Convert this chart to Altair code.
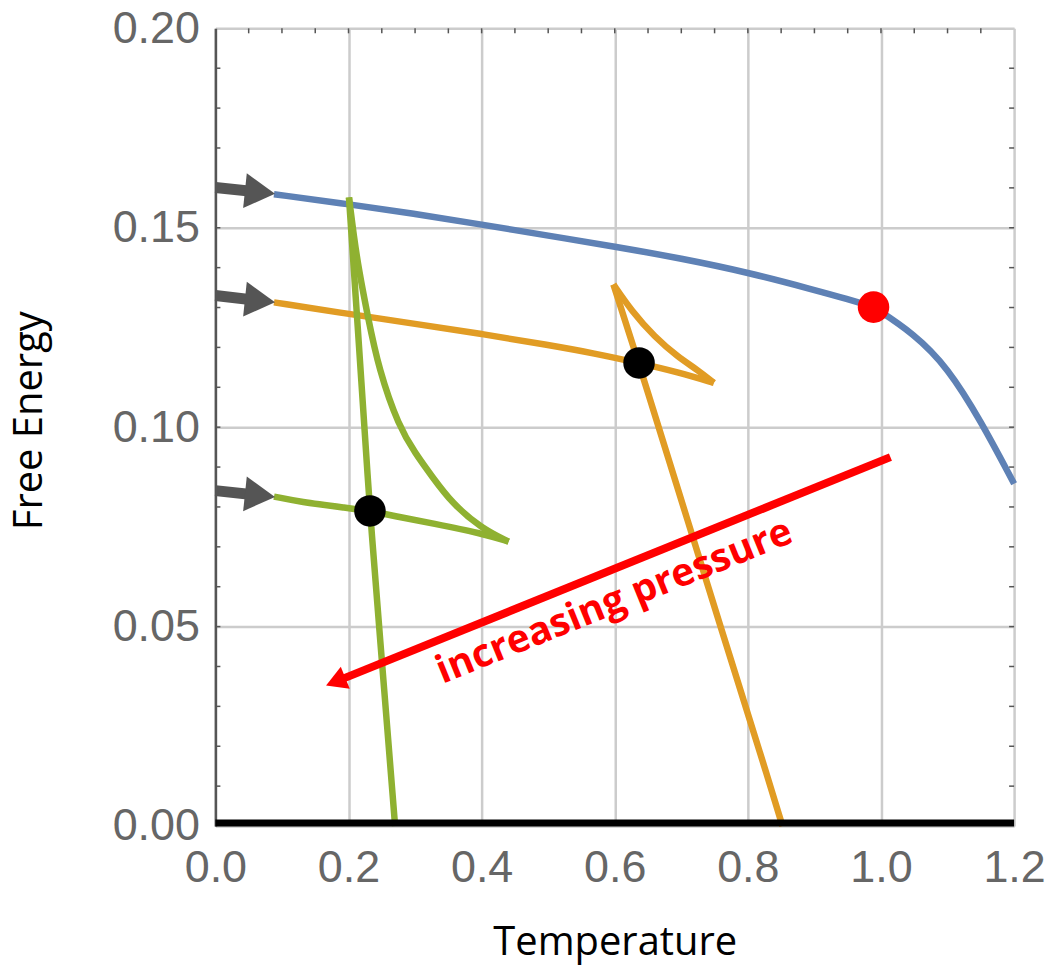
import altair as alt
import pandas as pd

# ---------------- data ----------------
# Blue curve (split at the red critical point)
blue_a_T = [0.088, 0.2, 0.3, 0.4, 0.5, 0.6, 0.7, 0.8, 0.9, 0.95, 0.989]
blue_a_F = [0.1584, 0.1559, 0.1535, 0.1508, 0.1480, 0.1453, 0.1423, 0.1388, 0.1344, 0.1321, 0.1301]
blue_b_T = [0.989, 1.05, 1.1, 1.15, 1.2]
blue_b_F = [0.1301, 0.1234, 0.1150, 0.1016, 0.0858]

# Orange swallowtail: lower branch, cusp branch, steep branch
orange_a_T = [0.088, 0.2, 0.3, 0.4, 0.5, 0.57, 0.636, 0.695, 0.749]
orange_a_F = [0.1313, 0.1284, 0.1259, 0.1234, 0.1206, 0.1185, 0.1161, 0.1138, 0.1111]
orange_b_T = [0.749, 0.725, 0.695, 0.660, 0.625, 0.598]
orange_b_F = [0.1111, 0.1143, 0.1176, 0.1226, 0.1292, 0.1358]
orange_c_T = [0.598, 0.636, 0.6595, 0.6926, 0.7259, 0.759, 0.7926, 0.826, 0.852]
orange_c_F = [0.1358, 0.1161, 0.1035, 0.0857, 0.0678, 0.0500, 0.0321, 0.0143, 0.0]

# Green swallowtail
green_a_T = [0.088, 0.126, 0.2, 0.232, 0.2757, 0.3256, 0.4, 0.4405]
green_a_F = [0.0826, 0.0813, 0.0797, 0.0790, 0.0775, 0.0759, 0.0734, 0.0713]
green_b_T = [0.4405, 0.40, 0.3556, 0.3256, 0.3006, 0.2757, 0.2457, 0.2282, 0.2157, 0.2082, 0.2007]
green_b_F = [0.0713, 0.0746, 0.0809, 0.0876, 0.0934, 0.1001, 0.1143, 0.1284, 0.1393, 0.1476, 0.1576]
green_c_T = [0.2007, 0.2115, 0.2182, 0.232, 0.246, 0.270]
green_c_F = [0.1576, 0.1309, 0.1143, 0.0790, 0.0500, 0.0]

# Points
black_T = [0.2322, 0.6365]
black_F = [0.0790, 0.1161]
red_T = [0.9888]
red_F = [0.1301]

# Gray arrows at the left (start of shaft, centre of head)
garrow_T0 = [0.0, 0.0, 0.0]
garrow_F0 = [0.1601, 0.1330, 0.0841]
garrow_T1 = [0.067, 0.067, 0.067]
garrow_F1 = [0.1589, 0.1317, 0.0829]

# Red "increasing pressure" arrow
rarrow_T0 = [1.0142]
rarrow_F0 = [0.0925]
rarrow_T1 = [0.1807]
rarrow_F1 = [0.0362]
label_T = [0.606]
label_F = [0.0535]
label_text = ["increasing pressure"]

# Axis ticks / labels
x_ticks = [0.0, 0.2, 0.4, 0.6, 0.8, 1.0, 1.2]
y_ticks = [0.0, 0.05, 0.10, 0.15, 0.20]
x_minor = [0.05, 0.1, 0.15, 0.2, 0.25, 0.3, 0.35, 0.4, 0.45, 0.5, 0.55, 0.6,
           0.65, 0.7, 0.75, 0.8, 0.85, 0.9, 0.95, 1.0, 1.05, 1.1, 1.15]
y_minor = [0.01, 0.02, 0.03, 0.04, 0.05, 0.06, 0.07, 0.08, 0.09, 0.10,
           0.11, 0.12, 0.13, 0.14, 0.15, 0.16, 0.17, 0.18, 0.19]

# ---------------- tables ----------------
rows = []
branches = [
    ("blue", "b1", blue_a_T, blue_a_F), ("blue", "b2", blue_b_T, blue_b_F),
    ("orange", "o1", orange_a_T, orange_a_F), ("orange", "o2", orange_b_T, orange_b_F),
    ("orange", "o3", orange_c_T, orange_c_F),
    ("green", "g1", green_a_T, green_a_F), ("green", "g2", green_b_T, green_b_F),
    ("green", "g3", green_c_T, green_c_F),
]
for curve, seg, ts, fs in branches:
    for i, (t, f) in enumerate(zip(ts, fs)):
        rows.append({"curve": curve, "seg": seg, "i": i, "x": t, "y": f})
curves = pd.DataFrame(rows)

xs = alt.Scale(domain=[0, 1.2], nice=False, zero=False)
ys = alt.Scale(domain=[0, 0.2], nice=False, zero=False)

xaxis = alt.Axis(values=x_ticks, format=".1f", labelFont="Liberation Sans", labelFontSize=45,
                 labelColor="#666666", labelPadding=20, labelFlush=False, labelOverlap=False,
                 ticks=False, tickSize=0, domain=False, grid=True, gridColor="#cccccc",
                 gridWidth=2.5, title="Temperature", titleFont="Open Sans", titleFontSize=40,
                 titleFontWeight="normal", titleColor="#000000", titleY=129,
                 titleBaseline="alphabetic")
yaxis = alt.Axis(values=y_ticks, format=".2f", labelFont="Liberation Sans", labelFontSize=45,
                 labelColor="#666666", labelPadding=16, labelFlush=False, labelOverlap=False,
                 ticks=False, tickSize=0, domain=True, domainColor="#555555", domainWidth=2.5,
                 grid=True, gridColor="#cccccc", gridWidth=2.5, title="Free Energy",
                 titleFont="Open Sans", titleFontSize=40, titleFontWeight="normal",
                 titleColor="#000000", titleAngle=270, titleX=-174, titleY=393,
                 titleAlign="center", titleBaseline="alphabetic")

X = alt.X("x:Q", scale=xs, axis=xaxis)
Y = alt.Y("y:Q", scale=ys, axis=yaxis)

# tick marks (inward)
xt = pd.DataFrame({"x": x_minor})
yt = pd.DataFrame({"y": y_minor})
tick_top = alt.Chart(xt).mark_rule(color="#555555", strokeWidth=1.5).encode(
    x=X, y=alt.value(0), y2=alt.value(5))
tick_left = alt.Chart(yt).mark_rule(color="#555555", strokeWidth=1.5).encode(
    y=Y, x=alt.value(0), x2=alt.value(5))
tick_right = alt.Chart(yt).mark_rule(color="#555555", strokeWidth=1.5).encode(
    y=Y, x=alt.value(796), x2=alt.value(801))

lines = alt.Chart(curves).mark_line(strokeWidth=6.5, interpolate="basis", strokeCap="butt",
                                    strokeJoin="round").encode(
    x=X, y=Y, detail="seg:N", order="i:Q",
    color=alt.Color("curve:N", scale=alt.Scale(domain=["blue", "orange", "green"],
                                               range=["#5E81B5", "#E19C24", "#8FB131"]),
                    legend=None),
    strokeWidth=alt.value(6.5))

base_df = pd.DataFrame({"x": [x_ticks[0]], "x2": [x_ticks[-1]], "y": [y_ticks[0]]})
base_bar = alt.Chart(base_df).mark_rule(color="#000000", strokeWidth=7, yOffset=-3).encode(
    x=X, x2="x2:Q", y=Y)

ga = pd.DataFrame({"x": garrow_T0, "y": garrow_F0, "x2": garrow_T1, "y2": garrow_F1})
g_shaft = alt.Chart(ga).mark_rule(color="#555555", strokeWidth=11).encode(
    x=X, y=Y, x2="x2:Q", y2="y2:Q")
gh = pd.DataFrame({"x": garrow_T1, "y": garrow_F1})
g_head = alt.Chart(gh).mark_point(shape="triangle-right", filled=True, size=1225, angle=6,
                                  color="#555555", opacity=1, strokeWidth=0).encode(x=X, y=Y)

ra = pd.DataFrame({"x": rarrow_T0, "y": rarrow_F0, "x2": rarrow_T1, "y2": rarrow_F1})
r_shaft = alt.Chart(ra).mark_rule(color="#FF0000", strokeWidth=8).encode(
    x=X, y=Y, x2="x2:Q", y2="y2:Q")
rh = pd.DataFrame({"x": rarrow_T1, "y": rarrow_F1})
r_head = alt.Chart(rh).mark_point(shape="triangle-right", filled=True, size=576, angle=158,
                                  color="#FF0000", opacity=1, strokeWidth=0).encode(x=X, y=Y)

lab = pd.DataFrame({"x": label_T, "y": label_F, "t": label_text})
label = alt.Chart(lab).mark_text(font="Open Sans", fontSize=39, fontWeight="bold", color="#FF0000",
                                 angle=338, align="center", baseline="alphabetic").encode(
    x=X, y=Y, text="t:N")

bd = pd.DataFrame({"x": black_T, "y": black_F})
black_dots = alt.Chart(bd).mark_point(shape="circle", filled=True, size=1000, color="#000000",
                                      opacity=1, strokeWidth=0).encode(x=X, y=Y)
rd = pd.DataFrame({"x": red_T, "y": red_F})
red_dots = alt.Chart(rd).mark_point(shape="circle", filled=True, size=1000, color="#FF0000",
                                    opacity=1, strokeWidth=0).encode(x=X, y=Y)

chart = alt.layer(
    tick_top, tick_left, tick_right, lines, base_bar, g_shaft, g_head,
    r_shaft, r_head, label, black_dots, red_dots
).properties(
    width=801, height=800,
    autosize=alt.AutoSizeParams(type="none"),
    padding={"left": 208, "top": 19, "right": 32, "bottom": 142},
).configure_view(stroke="#707070", strokeWidth=2).configure(background="white")

chart.save("out.html", embed_options={"renderer": "svg", "actions": False})
